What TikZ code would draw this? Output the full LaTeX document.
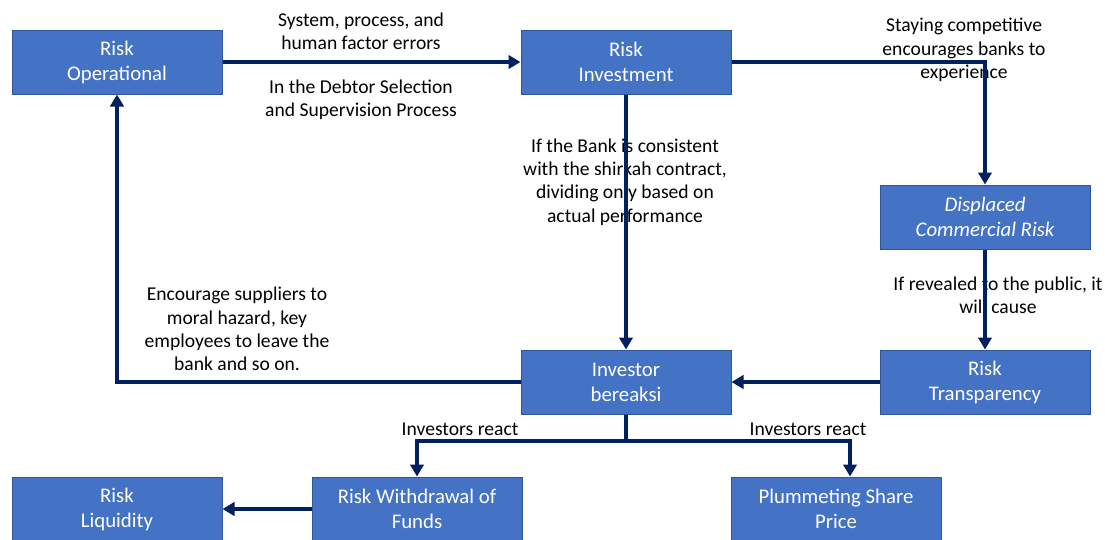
\documentclass[tikz,border=0pt]{standalone}
\usepackage{fontspec}
\setmainfont{Carlito}
\usetikzlibrary{arrows.meta}
\definecolor{boxblue}{HTML}{4472C4}
\definecolor{boxedge}{HTML}{2F5597}
\definecolor{navy}{HTML}{002060}

\begin{document}
\begin{tikzpicture}[x=0.75pt,y=-0.75pt,
  every node/.style={font=\fontsize{14.7}{17.4}\selectfont},
  riskbox/.style={draw=boxedge,line width=0.75pt,fill=boxblue,text=white,
    minimum width=157.5pt,minimum height=48pt,align=center,inner sep=0pt,
    font=\fontsize{15.6}{18.8}\selectfont},
  lbl/.style={align=center,inner sep=0pt},
  flow/.style={draw=navy,line width=3pt,-{Triangle[length=9pt,width=10pt]}}]
\useasboundingbox (0,0) rectangle (1105,539);

%%% boxes
\node[riskbox] (ro) at (117,62) {Risk\\Operational};
\node[riskbox] (ri) at (626,62) {Risk\\Investment};
\node[riskbox] (dcr) at (985,217) {\itshape Displaced\\\itshape Commercial Risk};
\node[riskbox] (rt) at (985,382) {Risk\\Transparency};
\node[riskbox] (ib) at (626,382) {Investor\\bereaksi};
\node[riskbox] (rl) at (117,509) {Risk\\Liquidity};
\node[riskbox] (rw) at (417,509) {Risk Withdrawal of\\Funds};
\node[riskbox] (psp) at (836,509) {Plummeting Share\\Price};

%%% labels
\node[lbl] (sys) at (361,31) {System, process, and\\human factor errors};
\node[lbl] (debtor) at (361,100) {In the Debtor Selection\\and Supervision Process};
\node[lbl] (stay) at (964,50) {Staying competitive\\encourages banks to\\experience};
\node[lbl] (shirkah) at (625,182) {If the Bank is consistent\\with the shirkah contract,\\dividing only based on\\actual performance};
\node[lbl] (reveal) at (998,295) {If revealed to the public, it\\will cause};
\node[lbl] (hazard) at (237,329) {Encourage suppliers to\\moral hazard, key\\employees to leave the\\bank and so on.};
\node[lbl] (react1) at (460,429) {Investors react};
\node[lbl] (react2) at (808,429) {Investors react};

%%% connectors
\coordinate (split) at (626,441);
\draw[flow] (ro.east) -- (ri.west);
\draw[flow] (ri.east) -| (dcr.north);
\draw[flow] (ri.south) -- (ib.north);
\draw[flow] (dcr.south) -- (rt.north);
\draw[flow] (rt.west) -- (ib.east);
\draw[flow] (ib.west) -| (ro.south);
\draw[draw=navy,line width=3pt] (ib.south) -- (split);
\draw[flow] (split) -| (rw.north);
\draw[flow] (split) -| ([xshift=10.5pt]psp.north);
\draw[flow] (rw.west) -- (rl.east);
\end{tikzpicture}
\end{document}
